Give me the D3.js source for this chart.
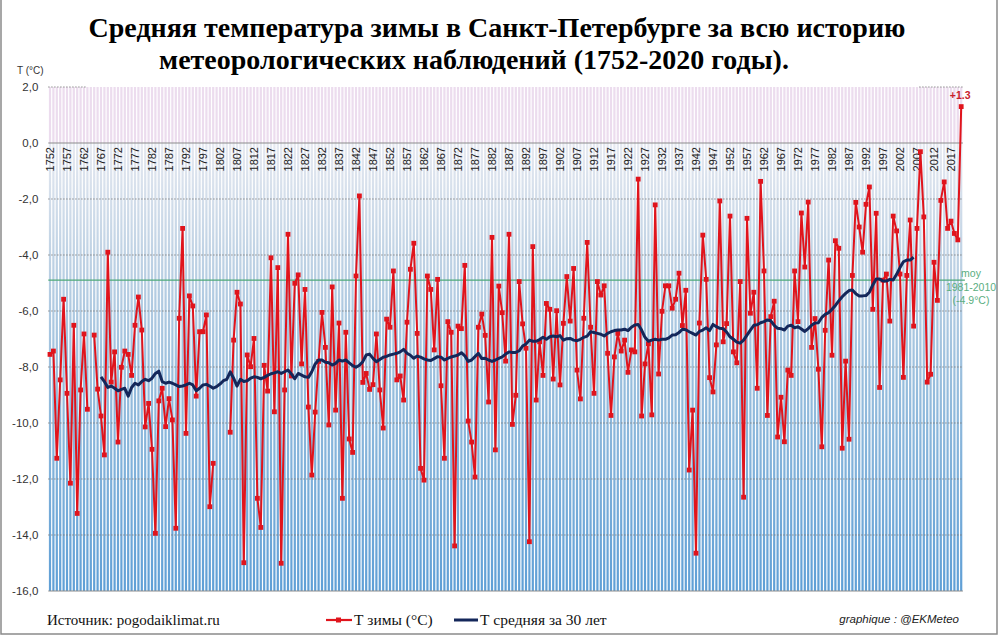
<!DOCTYPE html>
<html>
<head>
<meta charset="utf-8">
<script src="https://cdn.jsdelivr.net/npm/d3@7"></script>
<style>
  html, body { margin: 0; padding: 0; background: #fff; }
  svg { display: block; }
</style>
</head>
<body>
<svg id="chart" width="999" height="640"></svg>
<script>
// ---------- DATA ----------
const firstYear = 1752;
const lastYear = 2020;
// Winter mean temperature (°C), 1752..2020 (null = no data)
const winterT = [
  -7.55, -7.43, -11.26, -8.46, -5.58, -8.94, -12.15, -6.51, -13.23, -8.82,
  -6.82, -9.51, null, -6.86, -8.79, -9.75, -11.14, -3.90, -8.54, -7.46,
  -10.68, -8.01, -7.43, -7.55, -8.30, -6.51, -5.50, -6.68, -10.14, -9.30,
  -10.94, -13.94, -9.21, -8.76, -10.13, -9.13, -9.89, -13.76, -6.26, -3.05,
  -10.37, -5.46, -5.82, -9.04, -6.74, -6.74, -6.14, -12.99, -11.44, null,
  null, null, null, -10.33, -7.04, -5.33, -5.75, -14.99, -7.57, -7.99,
  -6.98, -12.69, -13.73, -7.94, -8.86, -4.10, -9.60, -4.45, -15.01, -8.82,
  -3.26, -8.32, -5.01, -4.71, -7.89, -5.23, -9.43, -11.86, -9.61, -7.80,
  -6.05, -7.30, -10.07, -5.14, -9.54, -6.43, -12.69, -6.76, -10.57, -11.05,
  -4.75, -1.89, -8.55, -8.23, -8.80, -8.63, -6.82, -8.82, -10.18, -6.29,
  -6.58, -4.57, -8.46, -8.32, -9.18, -6.40, -4.51, -3.58, -6.80, -11.62,
  -12.04, -4.75, -5.23, -7.39, -4.87, -8.67, -11.26, -6.38, -6.76, -14.39,
  -6.54, -6.63, -4.37, -9.93, -10.68, -11.93, -6.58, -6.11, -6.87, -9.25,
  -3.37, -10.96, -5.11, -6.06, -7.79, -3.26, -10.05, -9.01, -4.95, -6.46,
  -7.33, -14.24, -3.70, -9.18, -7.10, -8.30, -5.73, -5.94, -8.43, -5.99,
  -8.64, -6.44, -4.77, -6.36, -4.48, -8.11, -9.14, -6.26, -3.55, -6.58,
  -8.94, -4.95, -5.43, -5.10, -7.51, -9.73, -7.64, -6.80, -7.43, -7.04,
  -8.19, -7.39, -7.46, -1.29, -9.75, -7.89, -7.17, -9.71, -2.21, -8.25,
  -6.01, -5.10, -5.10, -5.90, -5.58, -4.65, -6.52, -5.26, -11.68, -9.54,
  -14.65, -6.43, -3.29, -4.87, -8.38, -8.89, -7.21, -2.07, -7.10, -6.45,
  -2.61, -7.46, -7.85, -4.95, -12.65, -2.69, -6.08, -5.33, -8.76, -1.37,
  -4.57, -9.73, -6.20, -5.65, -10.50, -9.08, -10.67, -8.11, -8.30, -4.57,
  -6.38, -2.50, -4.43, -2.11, -7.30, -6.27, -8.08, -10.85, -6.69, -4.18,
  -7.58, -3.49, -3.76, -10.90, -7.79, -10.58, -4.73, -2.12, -3.00, -3.90,
  -2.19, -1.57, -5.94, -2.51, -8.73, -4.90, -4.68, -6.36, -2.61, -3.14,
  -4.68, -8.37, -4.73, -2.75, -6.54, -3.05, -0.31, -2.64, -8.54, -8.26,
  -4.26, -5.62, -2.05, -1.39, -3.05, -2.79, -3.23, -3.46, 1.30
];
// 30-year mean (°C), 1767..2006
const avgFirstYear = 1767;
const avg30 = [
  -8.35, -8.52, -8.73, -8.68, -8.76, -8.85, -8.80, -8.76, -9.04, -8.73,
  -8.58, -8.64, -8.52, -8.44, -8.49, -8.40, -8.23, -8.15, -8.52, -8.58,
  -8.54, -8.58, -8.64, -8.70, -8.68, -8.64, -8.58, -8.64, -8.85, -8.76,
  -8.64, -8.62, -8.68, -8.76, -8.70, -8.61, -8.49, -8.44, -8.17, -8.40,
  -8.68, -8.44, -8.52, -8.49, -8.40, -8.35, -8.37, -8.42, -8.37, -8.30,
  -8.24, -8.21, -8.17, -8.23, -8.17, -8.11, -8.25, -8.42, -8.23, -8.29,
  -8.35, -8.37, -8.17, -7.89, -7.75, -7.75, -7.83, -7.85, -7.93, -7.87,
  -7.75, -7.79, -7.75, -7.85, -7.95, -8.01, -7.94, -7.81, -7.57, -7.54,
  -7.69, -7.81, -7.73, -7.65, -7.62, -7.57, -7.54, -7.51, -7.46, -7.37,
  -7.51, -7.58, -7.69, -7.61, -7.65, -7.71, -7.75, -7.77, -7.70, -7.63,
  -7.65, -7.75, -7.69, -7.64, -7.61, -7.57, -7.49, -7.60, -7.80, -7.75,
  -7.63, -7.51, -7.70, -7.69, -7.75, -7.80, -7.75, -7.69, -7.64, -7.54,
  -7.46, -7.48, -7.48, -7.42, -7.25, -7.18, -7.04, -7.08, -7.08, -7.02,
  -6.94, -7.01, -6.92, -6.89, -6.92, -6.88, -7.04, -6.99, -6.98, -7.04,
  -7.06, -7.01, -6.94, -6.90, -6.74, -6.77, -6.80, -6.83, -6.89, -6.80,
  -6.74, -6.70, -6.68, -6.68, -6.65, -6.70, -6.58, -6.50, -6.48, -6.68,
  -6.94, -7.08, -7.04, -7.01, -7.04, -7.01, -7.01, -6.96, -6.86, -6.85,
  -6.77, -6.65, -6.67, -6.74, -6.80, -6.86, -6.73, -6.68, -6.60, -6.70,
  -6.48, -6.56, -6.62, -6.63, -6.75, -6.92, -7.01, -7.11, -7.15, -7.04,
  -6.86, -6.68, -6.51, -6.49, -6.42, -6.38, -6.32, -6.35, -6.51, -6.62,
  -6.63, -6.68, -6.54, -6.51, -6.60, -6.56, -6.64, -6.73, -6.63, -6.51,
  -6.43, -6.42, -6.23, -6.12, -6.06, -5.94, -5.80, -5.64, -5.49, -5.37,
  -5.27, -5.25, -5.38, -5.46, -5.46, -5.45, -5.33, -5.07, -4.86, -4.86,
  -4.93, -4.93, -4.87, -4.89, -4.69, -4.45, -4.24, -4.18, -4.18, -4.08
];
const normValue = -4.9;           // moy 1981-2010
const yTicks = [2, 0, -2, -4, -6, -8, -10, -12, -14, -16];
const yearTickStep = 5;
const titleLines = [
  "Средняя температура зимы в Санкт-Петербурге за всю историю",
  "метеорологических наблюдений (1752-2020 годы)."
];
const legendLabels = ["Т зимы (°C)", "Т средняя за 30 лет"];
const sourceText = "Источник: pogodaiklimat.ru";
const creditText = "graphique : @EKMeteo";
const normLabel = ["moy", "1981-2010", "(-4.9°C)"];

// ---------- BUILD ----------
(function draw() {
const years = d3.range(firstYear, lastYear + 1);
const series = years.map((yr, i) => ({ year: yr, v: winterT[i] }));
const avgSeries = avg30.map((v, i) => ({ year: avgFirstYear + i, v }));

const svg = d3.select("#chart");
const W = 999, H = 640;
const pL = 48.3, pR = 962.9, pT = 87, pB = 591;

const x = d3.scaleBand().domain(years).range([pL, pR]).paddingInner(0.35).paddingOuter(0.175);
const xc = yr => x(yr) + x.bandwidth() / 2;
const y = d3.scaleLinear().domain([-16, 2]).range([pB, pT]);

const defs = svg.append("defs");
const grad = defs.append("linearGradient").attr("id", "blueGrad")
  .attr("gradientUnits", "userSpaceOnUse")
  .attr("x1", 0).attr("x2", 0).attr("y1", y(0)).attr("y2", y(-16));
grad.append("stop").attr("offset", "0%").attr("stop-color", "#e6e9f1");
grad.append("stop").attr("offset", "25%").attr("stop-color", "#bfd2e4");
grad.append("stop").attr("offset", "55%").attr("stop-color", "#95bcdc");
grad.append("stop").attr("offset", "100%").attr("stop-color", "#5f9fd6");

// frame
svg.append("rect").attr("x", 1).attr("y", -5).attr("width", W - 3).attr("height", H - 1)
  .attr("fill", "none").attr("stroke", "#8a8a8a").attr("stroke-width", 1.5);

// background stripes
const stripes = svg.append("g");
stripes.selectAll("rect.pos").data(years).join("rect").attr("class", "pos")
  .attr("x", d => x(d)).attr("width", x.bandwidth())
  .attr("y", y(2)).attr("height", y(0) - y(2))
  .attr("fill", "#ecdcee");
stripes.selectAll("rect.neg").data(years).join("rect").attr("class", "neg")
  .attr("x", d => x(d)).attr("width", x.bandwidth())
  .attr("y", y(0)).attr("height", y(-16) - y(0))
  .attr("fill", "url(#blueGrad)");

// grid
const grid = svg.append("g");
yTicks.filter(t => t < 0 && t > -16).forEach(t => {
  grid.append("line").attr("x1", pL).attr("x2", pR)
    .attr("y1", y(t)).attr("y2", y(t))
    .attr("stroke", "#777").attr("stroke-width", 1).attr("stroke-dasharray", "1.2,1.8");
});
[[pL, x(1763)], [x(2008), pR]].forEach(([a, b]) => {
  grid.append("line").attr("x1", a).attr("x2", b).attr("y1", y(2)).attr("y2", y(2))
    .attr("stroke", "#777").attr("stroke-dasharray", "1.2,1.8");
});
grid.append("line").attr("x1", pL).attr("x2", pR).attr("y1", y(0)).attr("y2", y(0))
  .attr("stroke", "#8c8c8c").attr("stroke-width", 1.2);
grid.append("line").attr("x1", pL).attr("x2", pR).attr("y1", y(-16)).attr("y2", y(-16))
  .attr("stroke", "#8c8c8c").attr("stroke-width", 1);
grid.append("line").attr("x1", pL).attr("x2", pR + 2)
  .attr("y1", y(normValue)).attr("y2", y(normValue))
  .attr("stroke", "#4ea878").attr("stroke-width", 1.2);

// y axis labels
const yAxis = d3.axisLeft(y).tickValues(yTicks).tickSize(0)
  .tickFormat(d => d3.format(".1f")(d).replace(".", ",").replace("−", "-"));
const yg = svg.append("g").attr("transform", `translate(${pL - 10},0)`).call(yAxis);
yg.select(".domain").remove();
yg.selectAll("text").attr("fill", "#333").style("font-family", "'Liberation Sans', Arial, sans-serif")
  .style("font-size", "11.5px").attr("x", 0);
svg.append("text").attr("x", 17).attr("y", 74).text("T (°C)")
  .attr("fill", "#333").style("font-family", "'Liberation Sans', Arial, sans-serif").style("font-size", "10px");

// year labels, rotated, just below 0
const yearTicks = years.filter(d => (d - firstYear) % yearTickStep === 0 && d <= lastYear - 3);
const xAxis = d3.axisBottom(x).tickValues(yearTicks).tickSize(0);
const xg = svg.append("g").attr("transform", `translate(0,${y(0)})`).call(xAxis);
xg.select(".domain").remove();
xg.selectAll("text")
  .attr("transform", "rotate(-90)")
  .attr("x", -4).attr("y", 0).attr("dy", "0.35em")
  .attr("text-anchor", "end")
  .attr("fill", "#222")
  .style("font-family", "'Liberation Sans', Arial, sans-serif")
  .style("font-size", "11px");

// red series
const red = "#e0141c";
const line = d3.line().defined(d => d.v !== null).x(d => xc(d.year)).y(d => y(d.v));
svg.append("path").datum(series).attr("d", line)
  .attr("fill", "none").attr("stroke", red).attr("stroke-width", 2).attr("stroke-linejoin", "round");
svg.append("g").selectAll("rect").data(series.filter(d => d.v !== null)).join("rect")
  .attr("x", d => xc(d.year) - 2.4).attr("y", d => y(d.v) - 2.4)
  .attr("width", 4.8).attr("height", 4.8).attr("fill", red);

// 30-year mean
svg.append("path").datum(avgSeries)
  .attr("d", d3.line().x(d => xc(d.year)).y(d => y(d.v)))
  .attr("fill", "none").attr("stroke", "#14275a").attr("stroke-width", 3).attr("stroke-linejoin", "round");

// last value label
const last = series[series.length - 1];
svg.append("text").attr("x", xc(last.year) - 1).attr("y", y(last.v) - 8)
  .attr("text-anchor", "middle").text("+1.3")
  .attr("fill", "#c8202a").style("font-weight", "bold")
  .style("font-family", "'Liberation Sans', Arial, sans-serif").style("font-size", "10.5px");

// norm label
normLabel.forEach((t, i) => {
  svg.append("text").attr("x", 971).attr("y", y(normValue) - 3 + i * 13.5)
    .attr("text-anchor", "middle").text(t)
    .attr("fill", "#5aae80")
    .style("font-family", "'Liberation Sans', Arial, sans-serif").style("font-size", "10.5px");
});

// title
const titleX = [497, 474];
titleLines.forEach((t, i) => {
  svg.append("text").attr("x", titleX[i]).attr("y", 37 + i * 32)
    .attr("text-anchor", "middle").text(t)
    .attr("fill", "#000").style("font-weight", "bold")
    .style("font-family", "'Liberation Serif', 'Times New Roman', serif").style("font-size", "28px");
});

// bottom legend
const fSerif = "'Liberation Serif', 'Times New Roman', serif";
svg.append("text").attr("x", 47).attr("y", 625).text(sourceText)
  .style("font-family", fSerif).style("font-size", "15px").attr("fill", "#111");
svg.append("line").attr("x1", 326).attr("x2", 352).attr("y1", 620).attr("y2", 620)
  .attr("stroke", red).attr("stroke-width", 2.2);
svg.append("rect").attr("x", 336).attr("y", 617.5).attr("width", 5).attr("height", 5).attr("fill", red);
svg.append("text").attr("x", 354).attr("y", 625).text(legendLabels[0])
  .style("font-family", fSerif).style("font-size", "15.5px").attr("fill", "#111");
svg.append("line").attr("x1", 454).attr("x2", 478).attr("y1", 620).attr("y2", 620)
  .attr("stroke", "#14275a").attr("stroke-width", 3);
svg.append("text").attr("x", 480).attr("y", 625).text(legendLabels[1])
  .style("font-family", fSerif).style("font-size", "15.5px").attr("fill", "#111");
svg.append("text").attr("x", 959).attr("y", 623).attr("text-anchor", "end").text(creditText)
  .style("font-family", "'Liberation Sans', Arial, sans-serif").style("font-style", "italic")
  .style("font-size", "11.5px").attr("fill", "#222");
})();
</script>
</body>
</html>
